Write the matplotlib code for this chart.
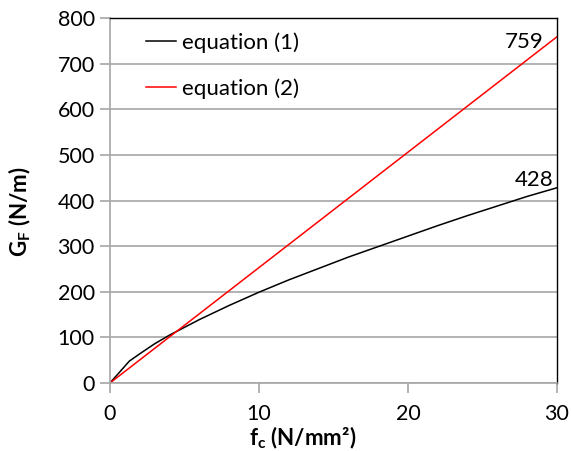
import matplotlib
matplotlib.use('Agg')
import matplotlib.pyplot as plt

plt.rcParams['font.family'] = ['Lato', 'Noto Sans CJK JP', 'DejaVu Sans']

# equation (1)
fc_1 = [0, 1.3, 2, 3, 4, 5, 6, 8, 10, 12, 14, 16, 18, 20, 22, 24, 26, 28, 30]
gf_1 = [0, 48, 64, 86, 105, 122, 139, 170, 199, 226, 251, 276, 299, 322, 345, 367, 388, 409, 428]

# equation (2), straight line
fc_2 = [0, 30]
gf_2 = [0, 759]

GRID = '#a6a6a6'

fig = plt.figure(figsize=(5.71, 4.51), dpi=100)
ax = fig.add_axes([0.1926, 0.1508, 0.7829, 0.8092])

ax.plot(fc_1, gf_1, color='black', lw=1.1, label='equation (1)')
ax.plot(fc_2, gf_2, color='red', lw=1.1, label='equation (2)')

ax.set_xlim(0, 30)
ax.set_ylim(0, 800)
ax.set_xticks([0, 10, 20, 30])
ax.set_yticks(range(0, 801, 100))
ax.yaxis.grid(True, color=GRID, lw=1.2)
ax.set_axisbelow(True)

for s in ['left', 'bottom']:
    ax.spines[s].set_color(GRID)
    ax.spines[s].set_linewidth(1.2)
for s in ['top', 'right']:
    ax.spines[s].set_color('black')
    ax.spines[s].set_linewidth(1.0)

ax.tick_params(axis='both', direction='out', length=7, width=1.2,
               color=GRID, labelsize=15.5)
ax.tick_params(axis='x', pad=8)
ax.tick_params(axis='y', pad=4)

ax.text(29.1, 747, '759', ha='right', va='center', fontsize=16)
ax.text(29.75, 445, '428', ha='right', va='center', fontsize=16)

ax.set_xlabel('f$_\\mathregular{c}$ (N/mm²)', fontsize=16, fontweight='bold')
ax.set_ylabel('G$_\\mathregular{F}$ (N/m)', fontsize=16, fontweight='bold')
ax.xaxis.set_label_coords(0.43, -0.115)
ax.yaxis.set_label_coords(-0.172, 0.47)

ax.legend(loc='upper left', frameon=False, fontsize=16, handlelength=1.35,
          handletextpad=0.3, borderaxespad=0, borderpad=0,
          bbox_to_anchor=(0.08, 0.962), labelspacing=1.15)

fig.savefig('out.png', dpi=100)
